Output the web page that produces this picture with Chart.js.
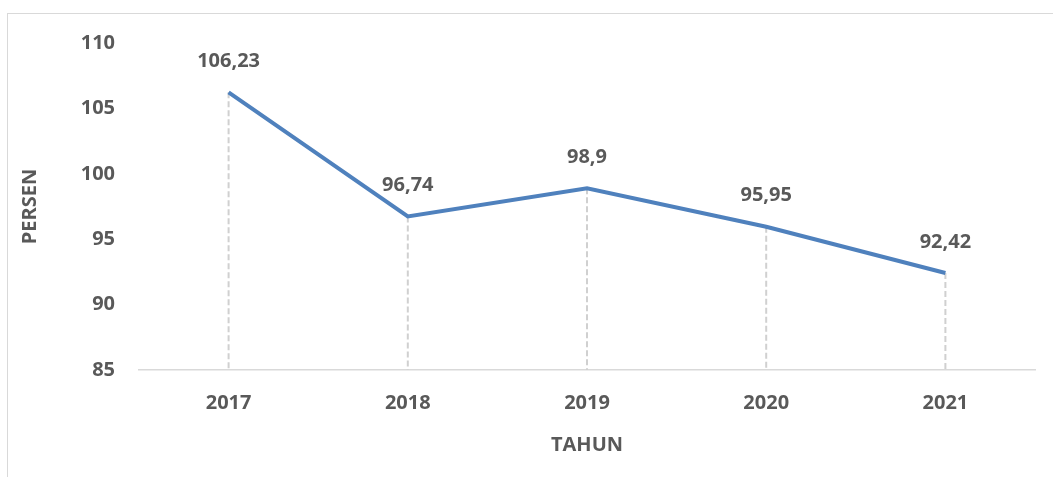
<!DOCTYPE html>
<html>
<head>
<meta charset="utf-8">
<script src="https://cdn.jsdelivr.net/npm/chart.js@4"></script>
<style>
  html, body { margin: 0; padding: 0; background: #fff; }
  #wrap { position: relative; width: 1053px; height: 477px; overflow: hidden; }
  #frame { position: absolute; left: 7px; top: 13px; right: -2px; bottom: -2px;
           border-left: 1px solid #d9d9d9; border-top: 1px solid #d9d9d9; }
  canvas { position: absolute; left: 0; top: 0; }
</style>
</head>
<body>
<div id="wrap">
  <div id="frame"></div>
  <canvas id="lineChart" width="1053" height="477"></canvas>
</div>
<script>
const years = ['2017', '2018', '2019', '2020', '2021'];
const persen = [106.23, 96.74, 98.9, 95.95, 92.42];
const yMin = 85;
const yMax = 110;
const yStep = 5;

const textColor = '#595959';
const fontFamily = '"Open Sans", "Noto Sans", sans-serif';

// dashed drop lines from each point down to the x axis
const dropLines = {
    id: 'dropLines',
    beforeDatasetsDraw(chart) {
        const ctx = chart.ctx;
        const meta = chart.getDatasetMeta(0);
        const bottom = chart.chartArea.bottom;
        ctx.save();
        ctx.strokeStyle = '#d0d0d0';
        ctx.lineWidth = 2;
        ctx.setLineDash([6, 3]);
        meta.data.forEach(pt => {
            ctx.beginPath();
            ctx.moveTo(pt.x, pt.y);
            ctx.lineTo(pt.x, bottom);
            ctx.stroke();
        });
        ctx.restore();
    }
};

// value labels above points
const valueLabels = {
    id: 'valueLabels',
    afterDatasetsDraw(chart) {
        const ctx = chart.ctx;
        const meta = chart.getDatasetMeta(0);
        ctx.save();
        ctx.fillStyle = textColor;
        ctx.font = 'bold 20px ' + fontFamily;
        ctx.textAlign = 'center';
        ctx.textBaseline = 'middle';
        meta.data.forEach((pt, i) => {
            const label = String(persen[i]).replace('.', ',');
            ctx.fillText(label, pt.x, pt.y - 31);
        });
        ctx.restore();
    }
};

const ctx = document.getElementById('lineChart').getContext('2d');
new Chart(ctx, {
    type: 'line',
    data: {
        labels: years,
        datasets: [{
            data: persen,
            borderColor: '#4f81bd',
            borderWidth: 4,
            pointRadius: 0,
            tension: 0,
            fill: false
        }]
    },
    options: {
        responsive: false,
        animation: false,
        layout: { padding: { left: 0, right: 18, top: 43, bottom: 0 } },
        plugins: {
            legend: { display: false },
            tooltip: { enabled: false }
        },
        scales: {
            x: {
                offset: true,
                grid: { display: false, drawTicks: false },
                border: { display: true, color: '#d9d9d9', width: 1.5 },
                ticks: {
                    color: textColor,
                    padding: 21,
                    font: { family: fontFamily, size: 20, weight: 'bold' }
                },
                title: {
                    display: true,
                    text: 'TAHUN',
                    color: textColor,
                    padding: 20,
                    font: { family: fontFamily, size: 20, weight: 'bold' }
                },
                afterFit(scale) { scale.height = 107; }
            },
            y: {
                min: yMin,
                max: yMax,
                grid: { display: false, drawTicks: false },
                border: { display: false },
                ticks: {
                    stepSize: yStep,
                    color: textColor,
                    padding: 24,
                    font: { family: fontFamily, size: 20, weight: 'bold' }
                },
                title: {
                    display: true,
                    text: 'PERSEN',
                    color: textColor,
                    padding: 18,
                    font: { family: fontFamily, size: 20, weight: 'bold' }
                },
                afterFit(scale) { scale.width = 139; }
            }
        }
    },
    plugins: [dropLines, valueLabels]
});
</script>
</body>
</html>
